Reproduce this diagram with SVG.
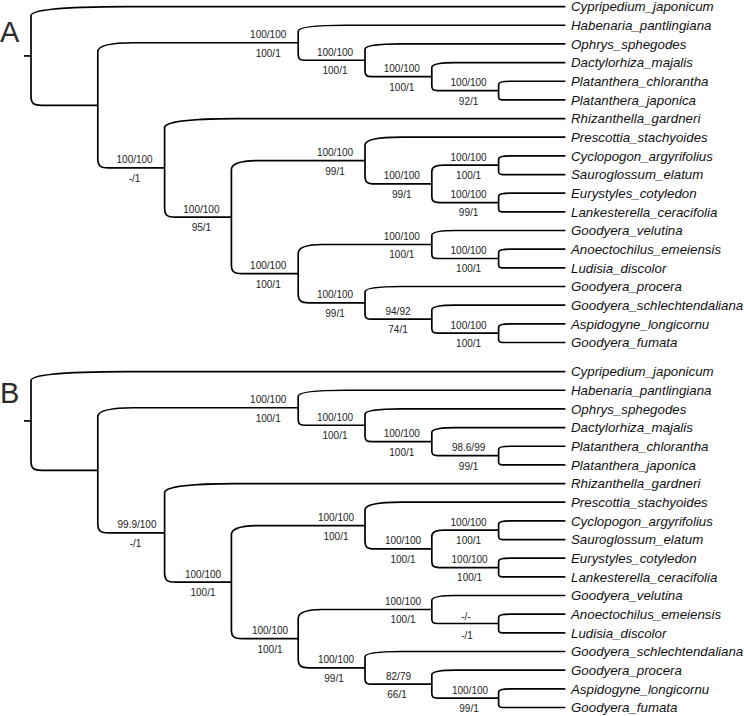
<svg xmlns="http://www.w3.org/2000/svg" width="744" height="716" viewBox="0 0 744 716">
<style>
.br{fill:none;stroke:#000;stroke-width:1.7}
.tip{font-family:"Liberation Sans",Arial,sans-serif;font-style:italic;font-size:13.3px;fill:#111}
.sup{font-family:"Liberation Sans",Arial,sans-serif;font-size:10px;fill:#222;text-anchor:middle}
.panel{font-family:"Liberation Sans",Arial,sans-serif;font-size:29px;fill:#2b2b2b}
</style>
<rect width="744" height="716" fill="#fff"/>
<text class="panel" x="0" y="42">A</text>
<text class="panel" x="0" y="403">B</text>

<!-- ===== Tree A ===== -->
<g id="treeA">
<g id="A-connectors">
<path class="br" d="M24,55.95 H31"/>
<path class="br" d="M565.4,6.6 H127 C55,6.6 31,10.65 31,15.6 V96.3 C31,103.5 33.7,105.3 41.8,105.3 H97.8"/>
<path class="br" d="M298.2,42.76 H133.8 C106.8,42.76 97.8,46.8 97.8,51.76 V158.84 C97.8,166.04 100.5,167.84 108.6,167.84 H164.6"/>
<path class="br" d="M565.4,25.26 H346.2 C310.2,25.26 298.2,27.96 298.2,31.26 V54.25 C298.2,59.05 300,60.25 305.4,60.25 H365"/>
<path class="br" d="M565.4,43.92 H401 C374,43.92 365,46.4 365,49.42 V71.08 C365,75.48 366.65,76.58 371.6,76.58 H431.8"/>
<path class="br" d="M565.4,62.58 H455.8 C437.8,62.58 431.8,64.74 431.8,67.38 V85.77 C431.8,89.61 433.24,90.57 437.56,90.57 H498.6"/>
<path class="br" d="M565.4,81.24 H510.6 C501.6,81.24 498.6,82.68 498.6,84.44 V96.7 C498.6,99.26 499.56,99.9 502.44,99.9 H565.4"/>
<path class="br" d="M565.4,118.56 H236.6 C182.6,118.56 164.6,122.61 164.6,127.56 V208.12 C164.6,215.32 167.3,217.12 175.4,217.12 H231.4"/>
<path class="br" d="M365,160.55 H259.4 C238.4,160.55 231.4,164.6 231.4,169.55 V264.68 C231.4,271.88 234.1,273.68 242.2,273.68 H298.2"/>
<path class="br" d="M565.4,137.22 H401 C374,137.22 365,140.78 365,145.12 V175.97 C365,182.29 367.37,183.87 374.48,183.87 H431.8"/>
<path class="br" d="M498.6,165.21 H443.8 C434.8,165.21 431.8,168.05 431.8,171.51 V196.23 C431.8,201.27 433.69,202.53 439.36,202.53 H498.6"/>
<path class="br" d="M565.4,155.88 H510.6 C501.6,155.88 498.6,157.32 498.6,159.08 V171.34 C498.6,173.9 499.56,174.54 502.44,174.54 H565.4"/>
<path class="br" d="M565.4,193.2 H510.6 C501.6,193.2 498.6,194.64 498.6,196.4 V208.66 C498.6,211.22 499.56,211.86 502.44,211.86 H565.4"/>
<path class="br" d="M431.8,244.52 H322.2 C304.2,244.52 298.2,248.57 298.2,253.52 V293.83 C298.2,301.03 300.9,302.83 309,302.83 H365"/>
<path class="br" d="M565.4,230.52 H455.8 C437.8,230.52 431.8,232.68 431.8,235.32 V253.71 C431.8,257.55 433.24,258.51 437.56,258.51 H498.6"/>
<path class="br" d="M565.4,249.18 H510.6 C501.6,249.18 498.6,250.62 498.6,252.38 V264.64 C498.6,267.2 499.56,267.84 502.44,267.84 H565.4"/>
<path class="br" d="M565.4,286.5 H401 C374,286.5 365,288.98 365,292 V313.66 C365,318.06 366.65,319.16 371.6,319.16 H431.8"/>
<path class="br" d="M565.4,305.16 H455.8 C437.8,305.16 431.8,307.32 431.8,309.96 V328.35 C431.8,332.19 433.24,333.15 437.56,333.15 H498.6"/>
<path class="br" d="M565.4,323.82 H510.6 C501.6,323.82 498.6,325.26 498.6,327.02 V339.28 C498.6,341.84 499.56,342.48 502.44,342.48 H565.4"/>
</g>
<g id="A-Cypripedium_japonicum"><text class="tip" x="571" y="11.3">Cypripedium_japonicum</text></g>
<g id="A-Habenaria_pantlingiana"><text class="tip" x="571" y="30">Habenaria_pantlingiana</text></g>
<g id="A-Ophrys_sphegodes"><text class="tip" x="571" y="48.6">Ophrys_sphegodes</text></g>
<g id="A-Dactylorhiza_majalis"><text class="tip" x="571" y="67.3">Dactylorhiza_majalis</text></g>
<g id="A-Platanthera_chlorantha"><text class="tip" x="571" y="85.9">Platanthera_chlorantha</text></g>
<g id="A-Platanthera_japonica"><text class="tip" x="571" y="104.6">Platanthera_japonica</text></g>
<g id="A-Rhizanthella_gardneri"><text class="tip" x="571" y="123.3">Rhizanthella_gardneri</text></g>
<g id="A-Prescottia_stachyoides"><text class="tip" x="571" y="141.9">Prescottia_stachyoides</text></g>
<g id="A-Cyclopogon_argyrifolius"><text class="tip" x="571" y="160.6">Cyclopogon_argyrifolius</text></g>
<g id="A-Sauroglossum_elatum"><text class="tip" x="571" y="179.2">Sauroglossum_elatum</text></g>
<g id="A-Eurystyles_cotyledon"><text class="tip" x="571" y="197.9">Eurystyles_cotyledon</text></g>
<g id="A-Lankesterella_ceracifolia"><text class="tip" x="571" y="216.6">Lankesterella_ceracifolia</text></g>
<g id="A-Goodyera_velutina"><text class="tip" x="571" y="235.2">Goodyera_velutina</text></g>
<g id="A-Anoectochilus_emeiensis"><text class="tip" x="571" y="253.9">Anoectochilus_emeiensis</text></g>
<g id="A-Ludisia_discolor"><text class="tip" x="571" y="272.5">Ludisia_discolor</text></g>
<g id="A-Goodyera_procera"><text class="tip" x="571" y="291.2">Goodyera_procera</text></g>
<g id="A-Goodyera_schlechtendaliana"><text class="tip" x="571" y="309.9">Goodyera_schlechtendaliana</text></g>
<g id="A-Aspidogyne_longicornu"><text class="tip" x="571" y="328.5">Aspidogyne_longicornu</text></g>
<g id="A-Goodyera_fumata"><text class="tip" x="571" y="347.2">Goodyera_fumata</text></g>

<g id="A-n2"><text class="sup" x="268.2" y="38.2">100/100</text><text class="sup" x="268.2" y="56.7">100/1</text></g>
<g id="A-n4"><text class="sup" x="335" y="55.7">100/100</text><text class="sup" x="335" y="74.2">100/1</text></g>
<g id="A-n5"><text class="sup" x="401.8" y="72">100/100</text><text class="sup" x="401.8" y="90.5">100/1</text></g>
<g id="A-n6"><text class="sup" x="468.6" y="86">100/100</text><text class="sup" x="468.6" y="104.5">92/1</text></g>
<g id="A-n3"><text class="sup" x="134.6" y="163.2">100/100</text><text class="sup" x="134.6" y="181.7">-/1</text></g>
<g id="A-n7"><text class="sup" x="201.4" y="212.5">100/100</text><text class="sup" x="201.4" y="231">95/1</text></g>
<g id="A-n8"><text class="sup" x="335" y="156">100/100</text><text class="sup" x="335" y="174.5">99/1</text></g>
<g id="A-n9"><text class="sup" x="401.8" y="179.3">100/100</text><text class="sup" x="401.8" y="197.8">99/1</text></g>
<g id="A-n10"><text class="sup" x="468.6" y="160.6">100/100</text><text class="sup" x="468.6" y="179.1">100/1</text></g>
<g id="A-n11"><text class="sup" x="468.6" y="197.9">100/100</text><text class="sup" x="468.6" y="216.4">99/1</text></g>
<g id="A-n12"><text class="sup" x="268.2" y="269.1">100/100</text><text class="sup" x="268.2" y="287.6">100/1</text></g>
<g id="A-n13"><text class="sup" x="401.8" y="239.9">100/100</text><text class="sup" x="401.8" y="258.4">100/1</text></g>
<g id="A-n14"><text class="sup" x="468.6" y="253.9">100/100</text><text class="sup" x="468.6" y="272.4">100/1</text></g>
<g id="A-n15"><text class="sup" x="335" y="298.2">100/100</text><text class="sup" x="335" y="316.7">99/1</text></g>
<g id="A-n16"><text class="sup" x="398" y="314.6">94/92</text><text class="sup" x="398" y="333.1">74/1</text></g>
<g id="A-n17"><text class="sup" x="468.6" y="328.6">100/100</text><text class="sup" x="468.6" y="347.1">100/1</text></g>
</g>

<!-- ===== Tree B ===== -->
<g id="treeB" transform="translate(0,365)">
<g id="B-connectors">
<path class="br" d="M24,55.95 H31"/>
<path class="br" d="M565.4,6.6 H127 C55,6.6 31,10.65 31,15.6 V96.3 C31,103.5 33.7,105.3 41.8,105.3 H97.8"/>
<path class="br" d="M298.2,42.76 H133.8 C106.8,42.76 97.8,46.8 97.8,51.76 V158.84 C97.8,166.04 100.5,167.84 108.6,167.84 H164.6"/>
<path class="br" d="M565.4,25.26 H346.2 C310.2,25.26 298.2,27.96 298.2,31.26 V54.25 C298.2,59.05 300,60.25 305.4,60.25 H365"/>
<path class="br" d="M565.4,43.92 H401 C374,43.92 365,46.4 365,49.42 V71.08 C365,75.48 366.65,76.58 371.6,76.58 H431.8"/>
<path class="br" d="M565.4,62.58 H455.8 C437.8,62.58 431.8,64.74 431.8,67.38 V85.77 C431.8,89.61 433.24,90.57 437.56,90.57 H498.6"/>
<path class="br" d="M565.4,81.24 H510.6 C501.6,81.24 498.6,82.68 498.6,84.44 V96.7 C498.6,99.26 499.56,99.9 502.44,99.9 H565.4"/>
<path class="br" d="M565.4,118.56 H236.6 C182.6,118.56 164.6,122.61 164.6,127.56 V208.12 C164.6,215.32 167.3,217.12 175.4,217.12 H231.4"/>
<path class="br" d="M365,160.55 H259.4 C238.4,160.55 231.4,164.6 231.4,169.55 V264.68 C231.4,271.88 234.1,273.68 242.2,273.68 H298.2"/>
<path class="br" d="M565.4,137.22 H401 C374,137.22 365,140.78 365,145.12 V175.97 C365,182.29 367.37,183.87 374.48,183.87 H431.8"/>
<path class="br" d="M498.6,165.21 H443.8 C434.8,165.21 431.8,168.05 431.8,171.51 V196.23 C431.8,201.27 433.69,202.53 439.36,202.53 H498.6"/>
<path class="br" d="M565.4,155.88 H510.6 C501.6,155.88 498.6,157.32 498.6,159.08 V171.34 C498.6,173.9 499.56,174.54 502.44,174.54 H565.4"/>
<path class="br" d="M565.4,193.2 H510.6 C501.6,193.2 498.6,194.64 498.6,196.4 V208.66 C498.6,211.22 499.56,211.86 502.44,211.86 H565.4"/>
<path class="br" d="M431.8,244.52 H322.2 C304.2,244.52 298.2,248.57 298.2,253.52 V293.83 C298.2,301.03 300.9,302.83 309,302.83 H365"/>
<path class="br" d="M565.4,230.52 H455.8 C437.8,230.52 431.8,232.68 431.8,235.32 V253.71 C431.8,257.55 433.24,258.51 437.56,258.51 H498.6"/>
<path class="br" d="M565.4,249.18 H510.6 C501.6,249.18 498.6,250.62 498.6,252.38 V264.64 C498.6,267.2 499.56,267.84 502.44,267.84 H565.4"/>
<path class="br" d="M565.4,286.5 H401 C374,286.5 365,288.98 365,292 V313.66 C365,318.06 366.65,319.16 371.6,319.16 H431.8"/>
<path class="br" d="M565.4,305.16 H455.8 C437.8,305.16 431.8,307.32 431.8,309.96 V328.35 C431.8,332.19 433.24,333.15 437.56,333.15 H498.6"/>
<path class="br" d="M565.4,323.82 H510.6 C501.6,323.82 498.6,325.26 498.6,327.02 V339.28 C498.6,341.84 499.56,342.48 502.44,342.48 H565.4"/>
</g>
<g id="B-Cypripedium_japonicum"><text class="tip" x="571" y="11.3">Cypripedium_japonicum</text></g>
<g id="B-Habenaria_pantlingiana"><text class="tip" x="571" y="30">Habenaria_pantlingiana</text></g>
<g id="B-Ophrys_sphegodes"><text class="tip" x="571" y="48.6">Ophrys_sphegodes</text></g>
<g id="B-Dactylorhiza_majalis"><text class="tip" x="571" y="67.3">Dactylorhiza_majalis</text></g>
<g id="B-Platanthera_chlorantha"><text class="tip" x="571" y="85.9">Platanthera_chlorantha</text></g>
<g id="B-Platanthera_japonica"><text class="tip" x="571" y="104.6">Platanthera_japonica</text></g>
<g id="B-Rhizanthella_gardneri"><text class="tip" x="571" y="123.3">Rhizanthella_gardneri</text></g>
<g id="B-Prescottia_stachyoides"><text class="tip" x="571" y="141.9">Prescottia_stachyoides</text></g>
<g id="B-Cyclopogon_argyrifolius"><text class="tip" x="571" y="160.6">Cyclopogon_argyrifolius</text></g>
<g id="B-Sauroglossum_elatum"><text class="tip" x="571" y="179.2">Sauroglossum_elatum</text></g>
<g id="B-Eurystyles_cotyledon"><text class="tip" x="571" y="197.9">Eurystyles_cotyledon</text></g>
<g id="B-Lankesterella_ceracifolia"><text class="tip" x="571" y="216.6">Lankesterella_ceracifolia</text></g>
<g id="B-Goodyera_velutina"><text class="tip" x="571" y="235.2">Goodyera_velutina</text></g>
<g id="B-Anoectochilus_emeiensis"><text class="tip" x="571" y="253.9">Anoectochilus_emeiensis</text></g>
<g id="B-Ludisia_discolor"><text class="tip" x="571" y="272.5">Ludisia_discolor</text></g>
<g id="B-Goodyera_schlechtendaliana"><text class="tip" x="571" y="291.2">Goodyera_schlechtendaliana</text></g>
<g id="B-Goodyera_procera"><text class="tip" x="571" y="309.9">Goodyera_procera</text></g>
<g id="B-Aspidogyne_longicornu"><text class="tip" x="571" y="328.5">Aspidogyne_longicornu</text></g>
<g id="B-Goodyera_fumata"><text class="tip" x="571" y="347.2">Goodyera_fumata</text></g>

<g id="B-n2"><text class="sup" x="268.2" y="38.2">100/100</text><text class="sup" x="268.2" y="56.7">100/1</text></g>
<g id="B-n4"><text class="sup" x="335" y="55.7">100/100</text><text class="sup" x="335" y="74.2">100/1</text></g>
<g id="B-n5"><text class="sup" x="401.8" y="72">100/100</text><text class="sup" x="401.8" y="90.5">100/1</text></g>
<g id="B-n6"><text class="sup" x="468.6" y="86">98.6/99</text><text class="sup" x="468.6" y="104.5">99/1</text></g>
<g id="B-n3"><text class="sup" x="137" y="163.2">99.9/100</text><text class="sup" x="135.5" y="181.7">-/1</text></g>
<g id="B-n7"><text class="sup" x="203" y="212.5">100/100</text><text class="sup" x="203" y="231">100/1</text></g>
<g id="B-n8"><text class="sup" x="336" y="156">100/100</text><text class="sup" x="336" y="174.5">100/1</text></g>
<g id="B-n9"><text class="sup" x="403" y="179.3">100/100</text><text class="sup" x="403" y="197.8">100/1</text></g>
<g id="B-n10"><text class="sup" x="468.6" y="160.6">100/100</text><text class="sup" x="468.6" y="179.1">100/1</text></g>
<g id="B-n11"><text class="sup" x="469.6" y="197.9">100/100</text><text class="sup" x="469.6" y="216.4">100/1</text></g>
<g id="B-n12"><text class="sup" x="270" y="269.1">100/100</text><text class="sup" x="270" y="287.6">100/1</text></g>
<g id="B-n13"><text class="sup" x="403" y="239.9">100/100</text><text class="sup" x="403" y="258.4">100/1</text></g>
<g id="B-n14"><text class="sup" x="466" y="255">-/-</text><text class="sup" x="467" y="273.5">-/1</text></g>
<g id="B-n15"><text class="sup" x="336" y="298.2">100/100</text><text class="sup" x="334" y="316.7">99/1</text></g>
<g id="B-n16"><text class="sup" x="398.5" y="314.6">82/79</text><text class="sup" x="397" y="333.1">66/1</text></g>
<g id="B-n17"><text class="sup" x="470" y="328.6">100/100</text><text class="sup" x="469" y="347.1">99/1</text></g>
</g>
</svg>
